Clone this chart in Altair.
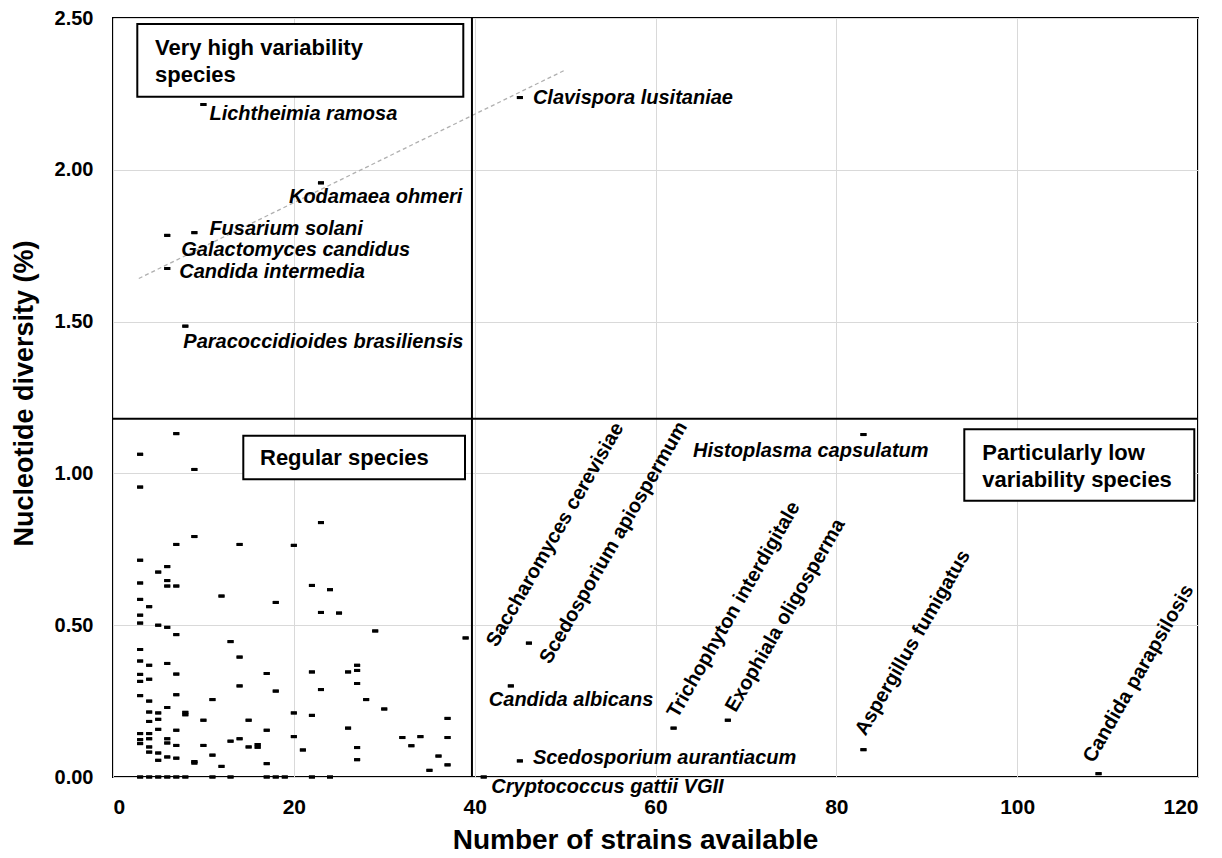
import altair as alt
import pandas as pd

FONT = "Liberation Sans"

X_TICKS = [0, 20, 40, 60, 80, 100, 120]
Y_TICKS = [0.0, 0.5, 1.0, 1.5, 2.0, 2.5]

# Unlabelled species: number of strains and nucleotide diversity (%)
REG_STRAINS = (
    [3] * 16 + [4] * 11 + [5] * 8 + [6] * 10 + [7] * 10 + [8] * 3 + [9] * 4
    + [10] * 2 + [11] * 3 + [12] * 2 + [13] * 3 + [14] * 4 + [15] * 2 + [16] * 2
    + [17] * 4 + [18] * 3 + [19] + [20] * 3 + [21] + [22] * 4 + [23] * 3 + [24] * 2
    + [25] + [26] * 2 + [27] * 5 + [28] + [29] + [30] + [32] + [33] + [34] + [35]
    + [36] + [37] * 3
)
REG_DIVERSITY = [
    1.063, 0.955, 0.714, 0.639, 0.585, 0.533, 0.507, 0.420, 0.382, 0.338, 0.315, 0.268, 0.143, 0.123, 0.110, 0.0,
    0.561, 0.368, 0.322, 0.250, 0.214, 0.183, 0.143, 0.126, 0.099, 0.082, 0.0,
    0.675, 0.500, 0.211, 0.190, 0.157, 0.079, 0.055, 0.0,
    0.693, 0.647, 0.629, 0.493, 0.374, 0.229, 0.126, 0.112, 0.066, 0.0,
    1.131, 0.766, 0.629, 0.469, 0.339, 0.271, 0.154, 0.104, 0.062, 0.0,
    0.213, 0.205, 0.0,
    1.013, 0.792, 0.051, 0.046,
    0.187, 0.104,
    0.255, 0.072, 0.0,
    0.596, 0.035,
    0.446, 0.118, 0.0,
    0.766, 0.395, 0.300, 0.126,
    0.187, 0.099,
    0.107, 0.098,
    0.341, 0.154, 0.044, 0.0,
    0.575, 0.283, 0.0,
    0.0,
    0.763, 0.211, 0.133,
    0.089,
    0.631, 0.346, 0.203, 0.0,
    0.838, 0.542, 0.288,
    0.617, 0.0,
    0.540,
    0.346, 0.161,
    0.368, 0.351, 0.308, 0.097, 0.057,
    0.255,
    0.481,
    0.224,
    0.130,
    0.103,
    0.133,
    0.022,
    0.069,
    0.193, 0.130, 0.040,
]

# Labelled species
LAB_NAMES = [
    "Lichtheimia ramosa", "Kodamaea ohmeri", "Fusarium solani", "Galactomyces candidus",
    "Candida intermedia", "Paracoccidioides brasiliensis", "Clavispora lusitaniae",
    "Histoplasma capsulatum", "Saccharomyces cerevisiae", "Scedosporium apiospermum",
    "Candida albicans", "Trichophyton interdigitale", "Exophiala oligosperma",
    "Scedosporium aurantiacum", "Cryptococcus gattii VGII", "Aspergillus fumigatus",
    "Candida parapsilosis",
]
LAB_STRAINS = [10, 23, 9, 6, 6, 8, 45, 83, 39, 46, 44, 62, 68, 45, 41, 83, 109]
LAB_DIVERSITY = [2.215, 1.957, 1.793, 1.784, 1.675, 1.485, 2.238, 1.128, 0.458, 0.441,
                 0.300, 0.161, 0.187, 0.053, 0.0, 0.090, 0.011]

# Trend line (dashed) end points
TREND_STRAINS = [2.85, 50.1]
TREND_DIVERSITY = [1.642, 2.330]

# Quadrant dividers
SPLIT_STRAINS = [39.7]
SPLIT_DIVERSITY = [1.18]

# Label placement (pixel offsets from the point, angle)
LABEL_STYLE = {
    "Lichtheimia ramosa": (6, 9, 0),
    "Kodamaea ohmeri": (-32, 14, 0),
    "Fusarium solani": (15, -4, 0),
    "Galactomyces candidus": (14, 15, 0),
    "Candida intermedia": (12, 3.5, 0),
    "Paracoccidioides brasiliensis": (-2, 16, 0),
    "Clavispora lusitaniae": (13, 0, 0),
    "Histoplasma capsulatum": (-170.5, 16.5, 0),
    "Candida albicans": (-22, 14.4, 0),
    "Scedosporium aurantiacum": (13, -3.3, 0),
    "Cryptococcus gattii VGII": (7.6, 10, 0),
    "Saccharomyces cerevisiae": (31, 10, 300),
    "Scedosporium apiospermum": (21, 22, 300),
    "Trichophyton interdigitale": (4, -9, 300),
    "Exophiala oligosperma": (8, -7, 300),
    "Aspergillus fumigatus": (2, -13, 300),
    "Candida parapsilosis": (-5, -10, 300),
}

W, H = 1085, 759

pts = pd.DataFrame({
    "strains": REG_STRAINS + LAB_STRAINS,
    "diversity": REG_DIVERSITY + LAB_DIVERSITY,
})
lab = pd.DataFrame({"name": LAB_NAMES, "strains": LAB_STRAINS, "diversity": LAB_DIVERSITY})
trend = pd.DataFrame({"strains": TREND_STRAINS, "diversity": TREND_DIVERSITY})

xs = alt.Scale(domain=[0, 120], nice=False, zero=False)
ys = alt.Scale(domain=[0, 2.5], nice=False, zero=False)

xaxis = alt.Axis(
    values=X_TICKS, format="d", grid=True, gridColor="#d9d9d9", gridWidth=1,
    ticks=False, domain=False, labelFont=FONT, labelFontSize=21, labelFontWeight="bold",
    labelColor="black", labelPadding=19, title="Number of strains available",
    titleFont=FONT, titleFontSize=28, titleFontWeight="bold", titleColor="black",
    titleX=522, titleY=63, titleAlign="center", titleBaseline="middle",
)
yaxis = alt.Axis(
    values=Y_TICKS, format=".2f", grid=True, gridColor="#d9d9d9", gridWidth=1,
    ticks=False, domain=False, labelFont=FONT, labelFontSize=20, labelFontWeight="bold",
    labelColor="black", labelPadding=20, title="Nucleotide diversity (%)",
    titleFont=FONT, titleFontSize=27, titleFontWeight="bold", titleColor="black",
    titleX=-89, titleY=375, titleAngle=270, titleAlign="center", titleBaseline="middle",
)

X = alt.X("strains:Q", scale=xs, axis=xaxis)
Y = alt.Y("diversity:Q", scale=ys, axis=yaxis)

one = pd.DataFrame({"k": [0]})

points = alt.Chart(pts).mark_point(
    shape="M-1,-0.5L1,-0.5L1,0.5L-1,0.5Z", size=36, filled=True, color="black", opacity=1
).encode(x=X, y=Y)

trend_line = alt.Chart(trend).mark_line(
    color="#b0b0b0", strokeDash=[4, 3], strokeWidth=1.3
).encode(x=X, y=Y)

vrule = alt.Chart(pd.DataFrame({"strains": SPLIT_STRAINS})).mark_rule(
    color="black", strokeWidth=2
).encode(x=X)

hrule = alt.Chart(pd.DataFrame({"diversity": SPLIT_DIVERSITY})).mark_rule(
    color="black", strokeWidth=2
).encode(y=Y)


def box(x1, x2, y1, y2):
    return alt.Chart(one).mark_rect(fill="white", stroke="black", strokeWidth=2).encode(
        x=alt.value(x1), x2=alt.value(x2), y=alt.value(y1), y2=alt.value(y2)
    )


def box_text(x, y, t):
    return alt.Chart(one).mark_text(
        align="left", baseline="middle", font=FONT, fontSize=22, fontWeight="bold", color="black"
    ).encode(x=alt.value(x), y=alt.value(y), text=alt.value(t))


boxes = [
    box(24.3, 350.3, 6, 78.7),
    box_text(42, 30, "Very high variability"),
    box_text(42, 57, "species"),
    box(130.3, 352, 417.7, 461.3),
    box_text(147, 439.7, "Regular species"),
    box(851.3, 1081.3, 411.3, 482.7),
    box_text(869.3, 434.7, "Particularly low"),
    box_text(869.3, 462, "variability species"),
]

labels = []
for name in LAB_NAMES:
    dx, dy, ang = LABEL_STYLE[name]
    sub = lab[lab["name"] == name]
    if ang == 0:
        mk = alt.Chart(sub).mark_text(
            align="left", baseline="middle", font=FONT, fontSize=20, fontWeight="bold",
            fontStyle="italic", color="black", xOffset=dx, yOffset=dy,
        )
    else:
        mk = alt.Chart(sub).mark_text(
            align="left", baseline="alphabetic", font=FONT, fontSize=20, fontWeight="bold",
            color="black", xOffset=dx, yOffset=dy, angle=ang,
        )
    labels.append(mk.encode(x=X, y=Y, text="name:N"))

chart = alt.layer(
    points, *boxes, trend_line, vrule, hrule, points, *labels
).properties(
    width=W, height=H,
    autosize=alt.AutoSizeParams(type="none"),
    padding={"left": 113, "top": 18, "right": 24, "bottom": 81},
    background="white",
).configure_view(stroke="black", strokeWidth=2)

chart.save("out.html", embed_options={"renderer": "svg", "actions": False})
